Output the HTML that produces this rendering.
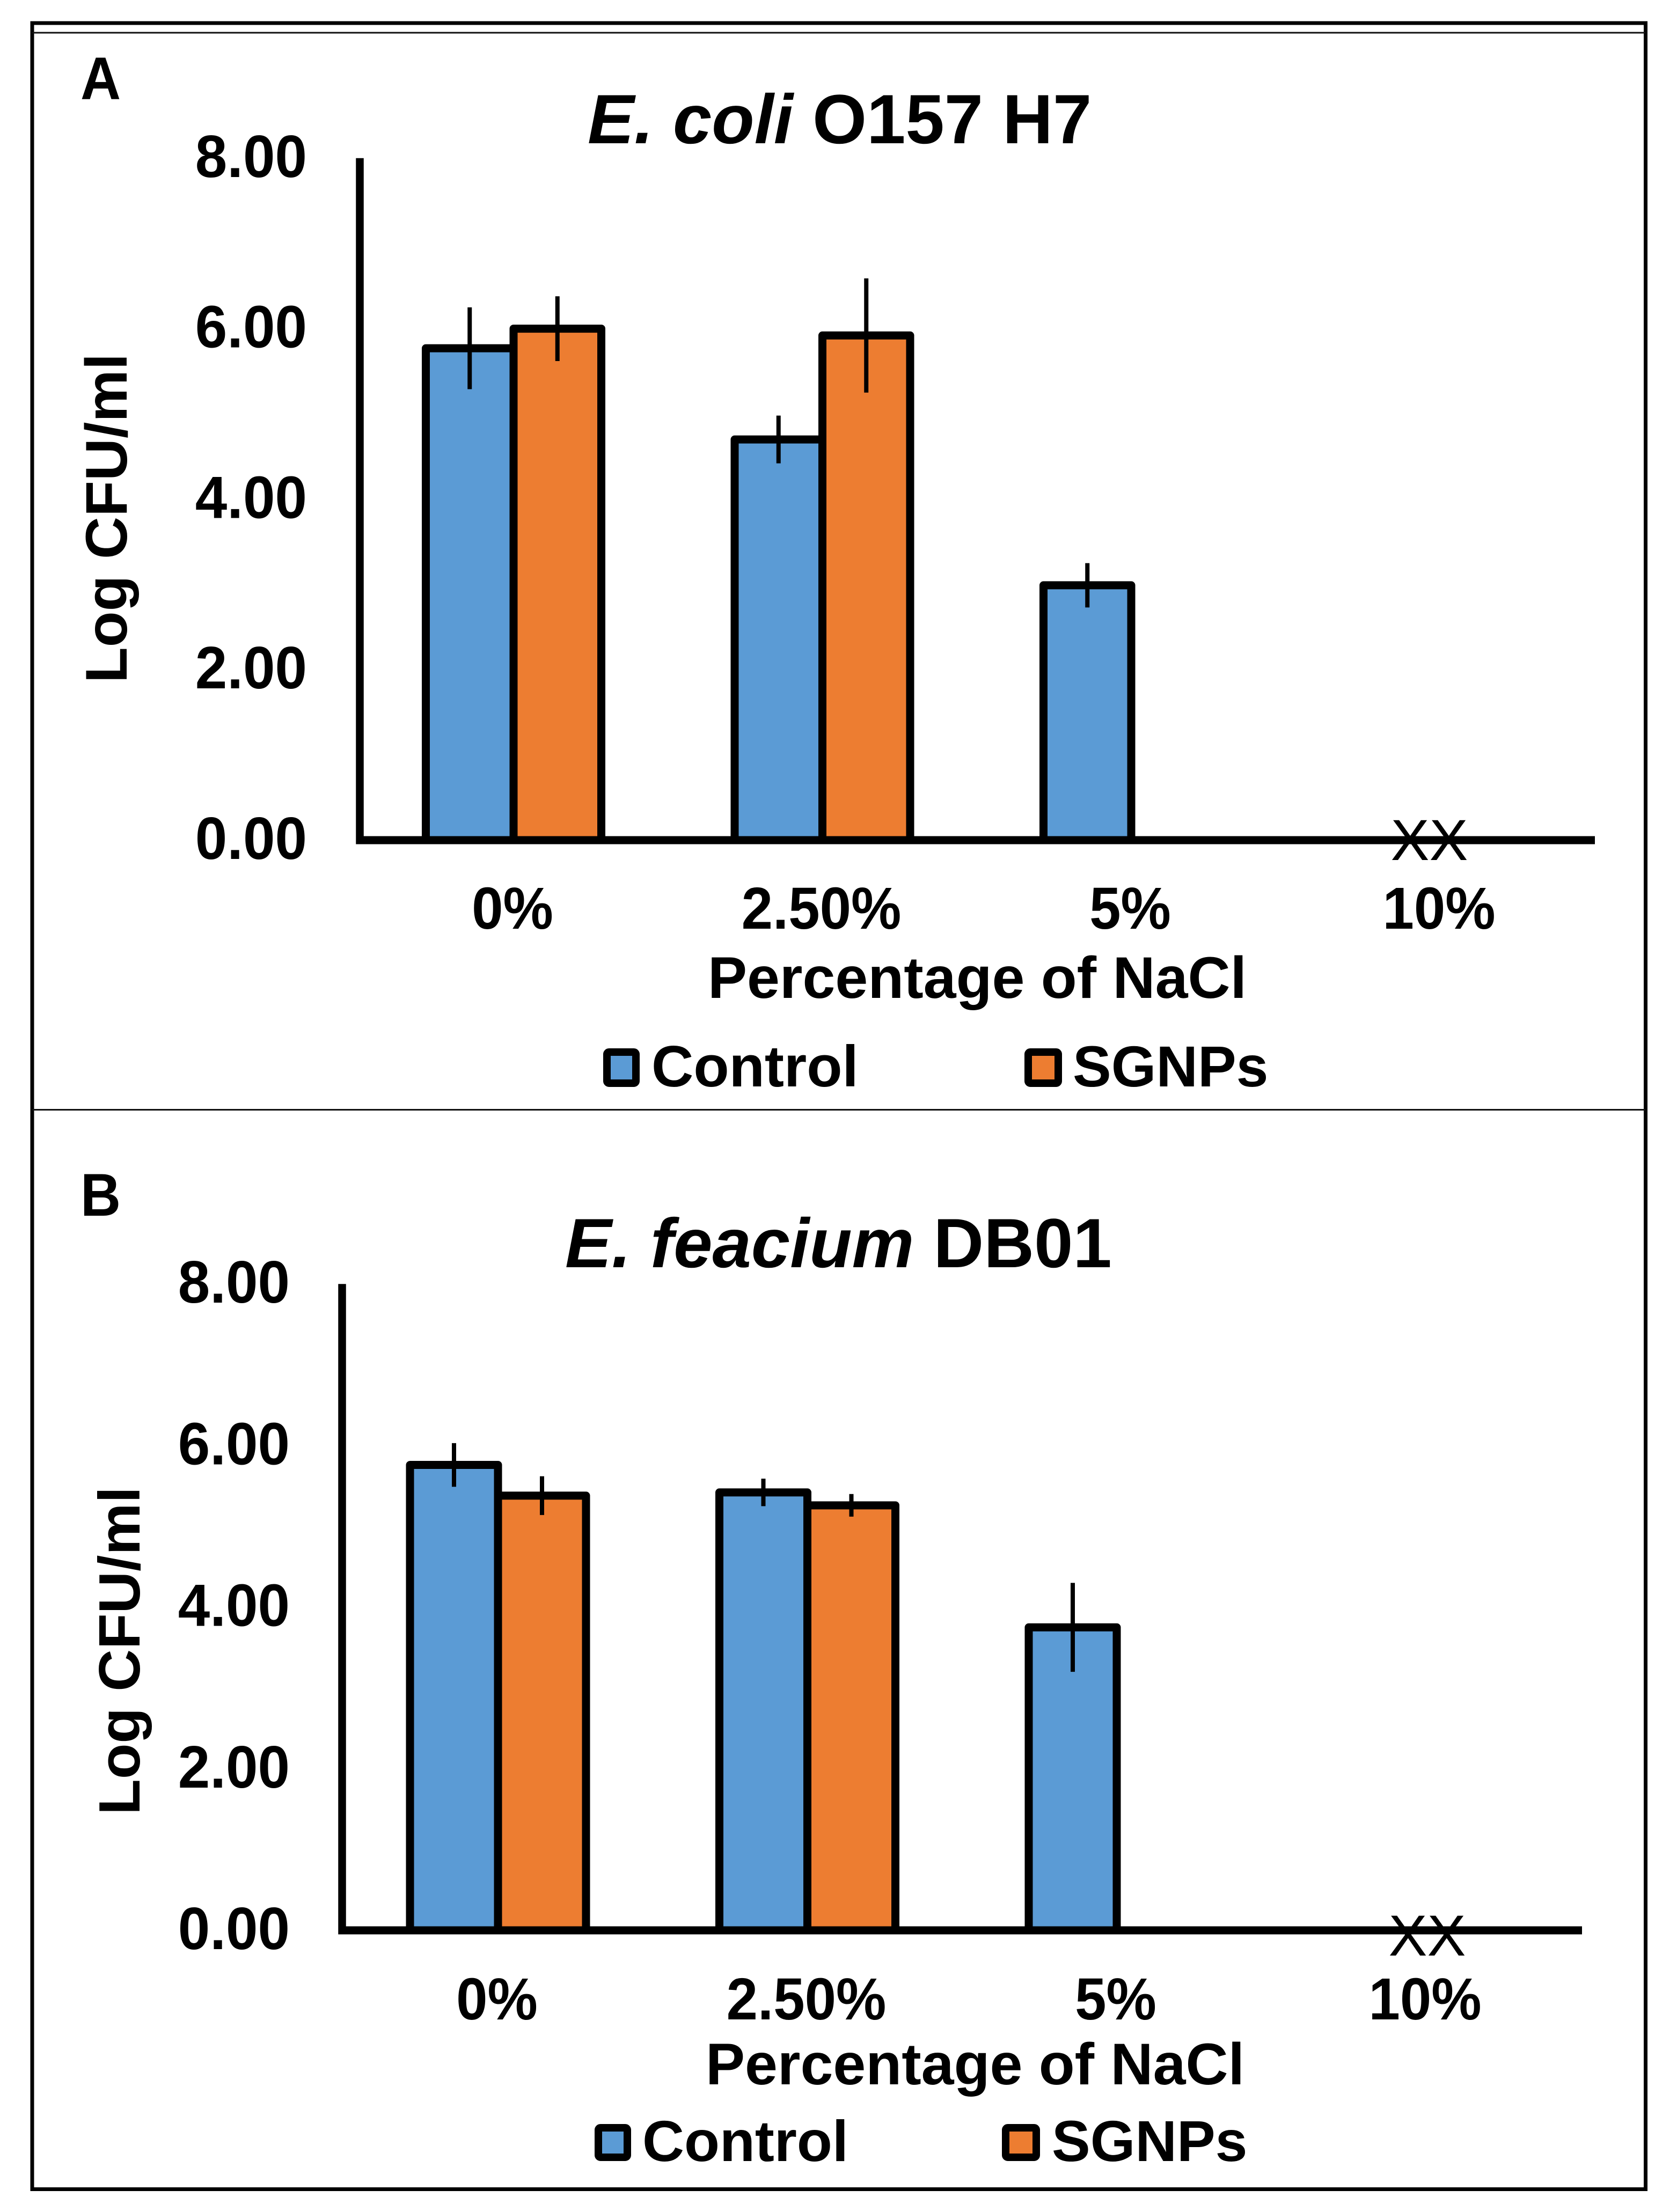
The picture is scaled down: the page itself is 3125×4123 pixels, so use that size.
<!DOCTYPE html>
<html>
<head>
<meta charset="utf-8">
<title>NaCl tolerance charts</title>
<style>
html,body{margin:0;padding:0;background:#fff;}
svg{display:block;font-family:"Liberation Sans",Arial,sans-serif;font-weight:bold;fill:#000;}
</style>
</head>
<body>
<svg id="figure" xmlns="http://www.w3.org/2000/svg" width="3125" height="4123" viewBox="0 0 3125 4123">
  <rect x="0" y="0" width="3125" height="4123" fill="#fff"/>
  <rect x="60" y="43" width="3006.5" height="4037.5" fill="none" stroke="#000" stroke-width="7"/>
  <rect x="60" y="59.5" width="3006" height="3" fill="#111"/>
  <rect x="60" y="2067" width="3006" height="3" fill="#111"/>

  <g id="panel-a">
    <text transform="translate(150,185) scale(1,1.08)" font-size="104">A</text>
    <text x="1095" y="267" font-size="130"><tspan font-style="italic">E. coli</tspan> O157 H7</text>
    <text transform="translate(236,966) rotate(-90)" text-anchor="middle" font-size="109.5">Log CFU/ml</text>
    <text x="1821" y="1860" text-anchor="middle" font-size="109.5">Percentage of NaCl</text>
    <g>
      <rect x="1131" y="1961" width="54" height="58" rx="4" fill="#5B9BD5" stroke="#000" stroke-width="14"/>
      <text x="1214" y="2025" font-size="108.5">Control</text>
    </g>
    <g>
      <rect x="1916" y="1961" width="56" height="58" rx="4" fill="#ED7D31" stroke="#000" stroke-width="14"/>
      <text x="1999" y="2025" font-size="107.5">SGNPs</text>
    </g>
  </g>

  <g id="panel-b">
    <text transform="translate(150,2266) scale(1,1.08)" font-size="104">B</text>
    <text x="1053" y="2362" font-size="130"><tspan font-style="italic">E. feacium</tspan> DB01</text>
    <text transform="translate(260,3077) rotate(-90)" text-anchor="middle" font-size="109">Log CFU/ml</text>
    <text x="1817" y="3885" text-anchor="middle" font-size="109.5">Percentage of NaCl</text>
    <g>
      <rect x="1115" y="3966" width="54" height="55" rx="4" fill="#5B9BD5" stroke="#000" stroke-width="14"/>
      <text x="1197" y="4028" font-size="108">Control</text>
    </g>
    <g>
      <rect x="1874" y="3966" width="57" height="55" rx="4" fill="#ED7D31" stroke="#000" stroke-width="14"/>
      <text x="1960" y="4028" font-size="107.5">SGNPs</text>
    </g>
  </g>
</svg>
<script>
var categories = ['0%', '2.50%', '5%', '10%'];
var yTicks = [8, 6, 4, 2, 0];
var yTickLabels = ['8.00', '6.00', '4.00', '2.00', '0.00'];
var noGrowth = [false, false, false, true];

var aControl = [5.77, 4.70, 2.99, 0];
var aControlErr = [0.48, 0.28, 0.26, 0];
var aSgnps = [6.00, 5.92, 0, 0];
var aSgnpsErr = [0.38, 0.67, 0, 0];

var bControl = [5.76, 5.42, 3.75, 0];
var bControlErr = [0.27, 0.17, 0.55, 0];
var bSgnps = [5.38, 5.26, 0, 0];
var bSgnpsErr = [0.24, 0.14, 0, 0];

var NS = 'http://www.w3.org/2000/svg';
var BLUE = '#5B9BD5';
var ORANGE = '#ED7D31';

function make(tag, attrs, parent) {
  var el = document.createElementNS(NS, tag);
  for (var k in attrs) { el.setAttribute(k, attrs[k]); }
  parent.appendChild(el);
  return el;
}

function drawPanel(p) {
  var g = document.getElementById(p.id);
  var yScale = function (v) { return p.y0 - v * p.unit; };
  var xCenter = function (i) { return p.firstCenter + i * p.groupStep; };

  function drawBar(i, value, fill, offset, series) {
    if (!(value > 0)) { return; }
    var top = yScale(value);
    var bar = make('rect', {
      x: xCenter(i) + offset, y: top, width: p.barWidth, height: p.y0 - top,
      fill: fill, stroke: '#000', 'stroke-width': 15, 'stroke-linejoin': 'round'
    }, g);
    
    
  }

  function drawError(i, value, err, offset, series) {
    if (!(value > 0)) { return; }
    var x = xCenter(i) + offset + p.barWidth / 2;
    var line = make('line', {
      x1: x, x2: x, y1: yScale(value + err), y2: yScale(value - err),
      stroke: '#000', 'stroke-width': 8
    }, g);
    
    
  }

  for (var i = 0; i < categories.length; i++) {
    drawBar(i, p.control[i], BLUE, -p.barWidth, 'control');
    drawBar(i, p.sgnps[i], ORANGE, 0, 'sgnps');
  }
  for (var j = 0; j < categories.length; j++) {
    drawError(j, p.control[j], p.controlErr[j], -p.barWidth, 'control');
    drawError(j, p.sgnps[j], p.sgnpsErr[j], 0, 'sgnps');
  }

  var yAxis = make('line', {
    x1: p.axisX, x2: p.axisX, y1: yScale(8), y2: p.y0 + 7.5,
    stroke: '#000', 'stroke-width': 14.5
  }, g);
  
  

  var xAxis = make('line', {
    x1: p.axisX - 7, x2: p.axisEnd, y1: p.y0, y2: p.y0,
    stroke: '#000', 'stroke-width': 15
  }, g);
  
  

  yTicks.forEach(function (t, n) {
    var label = make('text', {
      transform: 'translate(' + p.tickRight + ',' + (yScale(t) + 35) + ') scale(1,1.04)',
      'text-anchor': 'end', 'font-size': 107
    }, g);
    label.textContent = yTickLabels[n];
    
    
  });

  categories.forEach(function (c, n) {
    var label = make('text', {
      transform: 'translate(' + (xCenter(n) - 2) + ',' + p.xTickY + ') scale(1,1.05)',
      'text-anchor': 'middle', 'font-size': 105
    }, g);
    label.textContent = c;
    
    
    if (noGrowth[n]) {
      var mark = make('text', {
        x: xCenter(n) + p.markShift, y: yScale(0) + p.markDrop,
        'text-anchor': 'middle', 'font-size': 108,
        style: 'font-weight:normal'
      }, g);
      mark.textContent = 'XX';
      
      
    }
  });
}

drawPanel({
  id: 'panel-a', y0: 1566, unit: 158.9, firstCenter: 957, groupStep: 575.5, barWidth: 163.5,
  axisX: 670.5, axisEnd: 2972, tickRight: 572, xTickY: 1731, markShift: -20, markDrop: 37,
  control: aControl, controlErr: aControlErr, sgnps: aSgnps, sgnpsErr: aSgnpsErr
});
drawPanel({
  id: 'panel-b', y0: 3598, unit: 150.6, firstCenter: 928, groupStep: 576.5, barWidth: 164,
  axisX: 637.5, axisEnd: 2948, tickRight: 540, xTickY: 3764, markShift: 2, markDrop: 47,
  control: bControl, controlErr: bControlErr, sgnps: bSgnps, sgnpsErr: bSgnpsErr
});
</script>
</body>
</html>
